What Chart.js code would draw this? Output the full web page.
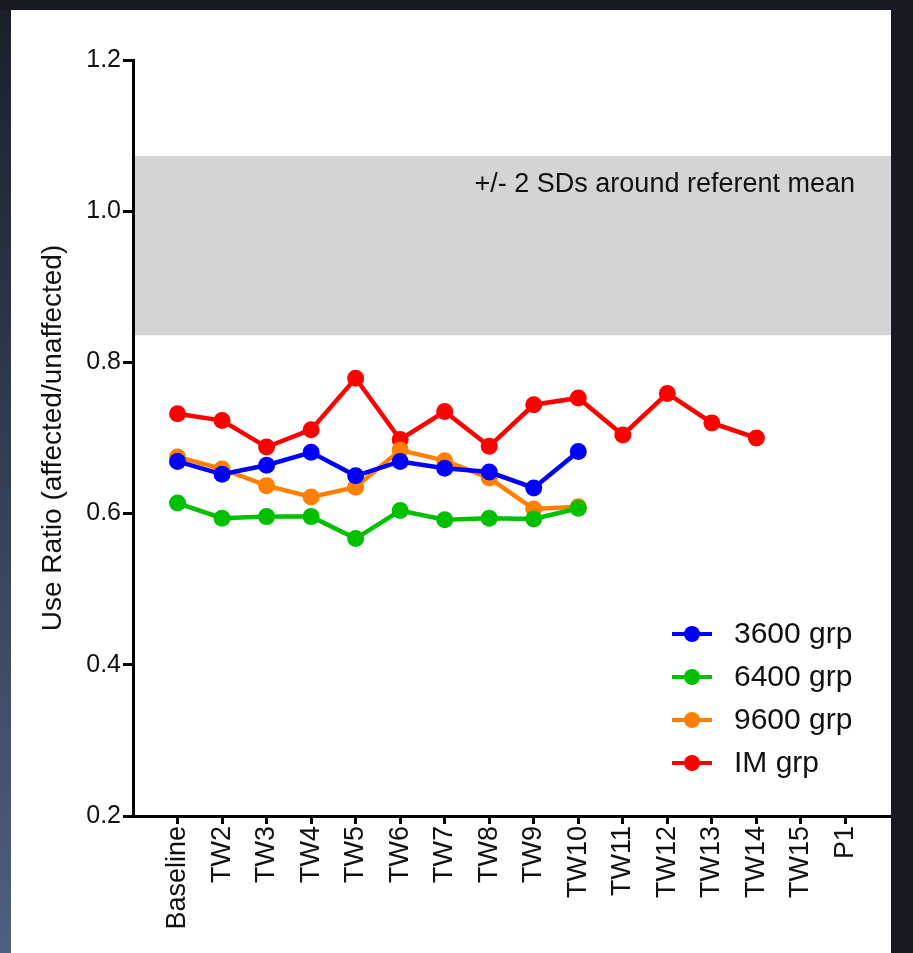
<!DOCTYPE html>
<html lang="en">
<head>
  <meta charset="UTF-8" />
  <title>Use Ratio by group</title>
  <script src="https://cdn.jsdelivr.net/npm/chart.js"></script>
  <style>
    html, body { margin: 0; padding: 0; }
    body { width: 913px; height: 953px; background: #151a22; position: relative; overflow: hidden; }
    #leftStrip { position: absolute; left: 0; top: 10px; width: 11px; height: 943px; background: linear-gradient(to bottom, #1a202b, #4f5f7f); }
    #frame { position: absolute; left: 11px; top: 10px; width: 880px; height: 943px; background: #fff; }
  </style>
</head>
<body>
  <div id="leftStrip"></div>
  <div id="frame">
    <canvas id="useChart" width="880" height="943"></canvas>
  </div>

  <script>
    // timepoints on the x axis
    const xLabels = ['Baseline', 'TW2', 'TW3', 'TW4', 'TW5', 'TW6', 'TW7', 'TW8', 'TW9', 'TW10',
                     'TW11', 'TW12', 'TW13', 'TW14', 'TW15', 'P1'];

    const seriesNames = ['3600 grp', '6400 grp', '9600 grp', 'IM grp'];
    const seriesColors = ['#0000ff', '#00c000', '#ff8000', '#ff0000'];

    const grp3600 = [0.669, 0.652, 0.664, 0.681, 0.650, 0.669, 0.660, 0.655, 0.634, 0.682,
                     null, null, null, null, null, null];
    const grp6400 = [0.614, 0.594, 0.596, 0.596, 0.567, 0.604, 0.592, 0.594, 0.593, 0.607,
                     null, null, null, null, null, null];
    const grp9600 = [0.675, 0.659, 0.637, 0.622, 0.635, 0.684, 0.670, 0.647, 0.606, 0.609,
                     null, null, null, null, null, null];
    const grpIM = [0.732, 0.723, 0.688, 0.711, 0.779, 0.698, 0.735, 0.689, 0.744, 0.753,
                   0.704, 0.759, 0.720, 0.700, null, null];

    // shaded referent band (+/- 2 SD) and its note
    const bandLow = 0.836;
    const bandHigh = 1.073;
    const bandNote = '+/- 2 SDs around referent mean';
    const bandNoteY = 1.035;

    const yMin = 0.2, yMax = 1.2, yStep = 0.2;
    const yTitle = 'Use Ratio (affected/unaffected)';

    const FONT = '"Liberation Sans", Arial, sans-serif';
    const allSeries = [grp3600, grp6400, grp9600, grpIM];

    const refBand = {
      id: 'refBand',
      beforeDatasetsDraw(chart) {
        const { ctx, chartArea } = chart;
        const y = chart.scales.y;
        const top = y.getPixelForValue(bandHigh);
        const bottom = y.getPixelForValue(bandLow);
        ctx.save();
        ctx.fillStyle = '#d4d4d4';
        ctx.fillRect(chartArea.left + 2, top, chart.width - chartArea.left - 2, bottom - top);
        ctx.fillStyle = '#111';
        ctx.font = '27px ' + FONT;
        ctx.textAlign = 'right';
        ctx.textBaseline = 'middle';
        ctx.fillText(bandNote, chartArea.right - 35, y.getPixelForValue(bandNoteY));
        ctx.restore();
      }
    };

    const insideLegend = {
      id: 'insideLegend',
      afterDatasetsDraw(chart) {
        const { ctx, chartArea } = chart;
        ctx.save();
        ctx.font = '30px ' + FONT;
        ctx.textBaseline = 'middle';
        ctx.textAlign = 'left';
        chart.data.datasets.forEach((ds, i) => {
          const y = chartArea.bottom - 182 + i * 43;
          const x0 = chartArea.right - 218;
          ctx.strokeStyle = ds.borderColor;
          ctx.lineWidth = 4;
          ctx.beginPath();
          ctx.moveTo(x0, y);
          ctx.lineTo(x0 + 40, y);
          ctx.stroke();
          ctx.fillStyle = ds.borderColor;
          ctx.beginPath();
          ctx.arc(x0 + 20, y, 8, 0, Math.PI * 2);
          ctx.fill();
          ctx.fillStyle = '#111';
          ctx.fillText(ds.label, x0 + 62, y + 1);
        });
        ctx.restore();
      }
    };

    new Chart(document.getElementById('useChart'), {
      type: 'line',
      data: {
        datasets: seriesNames.map((name, i) => ({
          label: name,
          data: allSeries[i].map((v, j) => ({ x: j, y: v })),
          borderColor: seriesColors[i],
          backgroundColor: seriesColors[i],
          pointBackgroundColor: seriesColors[i],
          pointBorderWidth: 0,
          pointRadius: 8.5,
          borderWidth: 4.5,
          tension: 0,
          spanGaps: false
        }))
      },
      options: {
        responsive: false,
        animation: false,
        layout: { autoPadding: false, padding: { top: 50, right: 1, left: 0, bottom: 0 } },
        plugins: {
          legend: { display: false },
          tooltip: { enabled: false }
        },
        scales: {
          x: {
            type: 'linear',
            min: -1,
            max: xLabels.length,
            afterBuildTicks: (scale) => { scale.ticks = xLabels.map((_, i) => ({ value: i })); },
            afterFit: (scale) => {
              scale.height = 137;
              scale.paddingLeft = 0;
              scale.paddingRight = 0;
            },
            border: { display: true, color: '#000', width: 3 },
            grid: { drawOnChartArea: false, drawTicks: true, tickLength: 8, tickWidth: 3, tickColor: '#000' },
            ticks: {
              autoSkip: false,
              minRotation: 90,
              maxRotation: 90,
              padding: 2,
              color: '#111',
              font: { family: FONT, size: 27 },
              callback: (v) => xLabels[v] ?? ''
            }
          },
          y: {
            min: yMin,
            max: yMax,
            afterFit: (scale) => { scale.width = 122; },
            border: { display: true, color: '#000', width: 3 },
            grid: { drawOnChartArea: false, drawTicks: true, tickLength: 10, tickWidth: 3, tickColor: '#000' },
            ticks: {
              stepSize: yStep,
              padding: 2,
              color: '#111',
              font: { family: FONT, size: 25 },
              callback: (v) => Number(v).toFixed(1)
            },
            title: {
              display: true,
              text: yTitle,
              color: '#111',
              font: { family: FONT, size: 28 },
              padding: { top: 25, bottom: 0 }
            }
          }
        }
      },
      plugins: [refBand, insideLegend]
    });
  </script>
</body>
</html>
